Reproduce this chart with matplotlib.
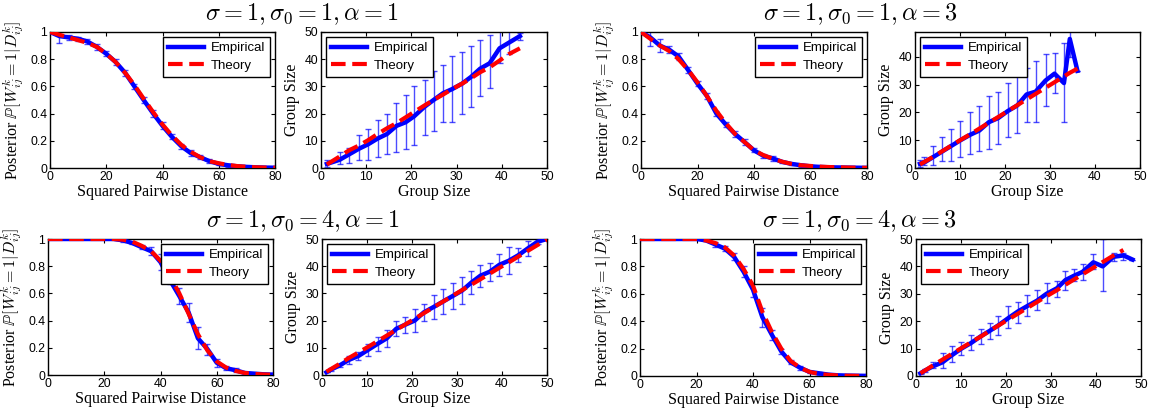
import numpy as np
import matplotlib
matplotlib.use("Agg")
import matplotlib.pyplot as plt
from matplotlib.ticker import FuncFormatter

plt.rcParams['mathtext.fontset'] = 'cm'
plt.rcParams['font.family'] = ['Liberation Sans', 'DejaVu Sans']

# ---- posterior panels: x grid (squared pairwise distance)
post_x = [0.0, 3.3, 6.7, 10.0, 13.3, 16.7, 20.0, 23.3, 26.7, 30.0, 33.3, 36.7, 40.0,
          43.3, 46.7, 50.0, 53.3, 56.7, 60.0, 63.3, 66.7, 70.0, 73.3, 76.7, 80.0]

# sigma0=1, alpha=1
post_11_emp = [1.00, 0.97, 0.96, 0.95, 0.93, 0.89, 0.84, 0.78, 0.70, 0.60, 0.50, 0.40, 0.31,
               0.23, 0.16, 0.11, 0.08, 0.05, 0.03, 0.02, 0.012, 0.008, 0.005, 0.003, 0.002]
post_11_err = [0.0, 0.05, 0.02, 0.015, 0.015, 0.02, 0.02, 0.02, 0.02, 0.02, 0.025, 0.025, 0.025,
               0.02, 0.02, 0.02, 0.015, 0.015, 0.01, 0.01, 0.01, 0.008, 0.005, 0.005, 0.0]
post_11_th = [1.00, 0.98, 0.96, 0.94, 0.92, 0.89, 0.84, 0.78, 0.70, 0.61, 0.51, 0.41, 0.32,
              0.24, 0.17, 0.12, 0.08, 0.05, 0.035, 0.022, 0.014, 0.009, 0.005, 0.003, 0.002]

# sigma0=1, alpha=3
post_13_emp = [1.00, 0.96, 0.90, 0.87, 0.82, 0.72, 0.62, 0.53, 0.40, 0.32, 0.25, 0.19, 0.13,
               0.09, 0.07, 0.045, 0.03, 0.02, 0.012, 0.008, 0.005, 0.004, 0.003, 0.002, 0.001]
post_13_err = [0.0, 0.065, 0.05, 0.025, 0.025, 0.02, 0.02, 0.02, 0.02, 0.02, 0.02, 0.02, 0.015,
               0.015, 0.015, 0.01, 0.01, 0.01, 0.008, 0.008, 0.005, 0.005, 0.004, 0.003, 0.0]
post_13_th = [1.00, 0.95, 0.90, 0.86, 0.80, 0.72, 0.63, 0.53, 0.42, 0.33, 0.25, 0.19, 0.13,
              0.095, 0.068, 0.046, 0.03, 0.02, 0.015, 0.01, 0.007, 0.005, 0.003, 0.002, 0.001]

# sigma0=4, alpha=1
post_41_emp = [1.00, 1.00, 1.00, 1.00, 1.00, 1.00, 1.00, 1.00, 0.99, 0.97, 0.94, 0.91, 0.83,
               0.70, 0.58, 0.46, 0.27, 0.19, 0.09, 0.05, 0.035, 0.015, 0.01, 0.005, 0.003]
post_41_err = [0.0, 0.0, 0.0, 0.0, 0.0, 0.0, 0.0, 0.0, 0.01, 0.01, 0.015, 0.03, 0.06,
               0.03, 0.06, 0.07, 0.08, 0.04, 0.03, 0.015, 0.015, 0.008, 0.005, 0.003, 0.0]
post_41_th = [1.00, 1.00, 1.00, 1.00, 1.00, 1.00, 1.00, 1.00, 0.995, 0.98, 0.95, 0.91, 0.84,
              0.73, 0.60, 0.45, 0.30, 0.18, 0.10, 0.055, 0.03, 0.015, 0.008, 0.004, 0.002]

# sigma0=4, alpha=3
post_43_emp = [1.00, 1.00, 1.00, 1.00, 1.00, 1.00, 1.00, 0.99, 0.96, 0.93, 0.87, 0.76, 0.63,
               0.43, 0.30, 0.18, 0.10, 0.06, 0.03, 0.02, 0.01, 0.005, 0.003, 0.002, 0.001]
post_43_err = [0.0, 0.0, 0.0, 0.0, 0.0, 0.0, 0.0, 0.005, 0.02, 0.02, 0.025, 0.04, 0.05,
               0.07, 0.035, 0.02, 0.015, 0.015, 0.01, 0.01, 0.005, 0.003, 0.002, 0.0, 0.0]
post_43_th = [1.00, 1.00, 1.00, 1.00, 1.00, 1.00, 1.00, 0.99, 0.97, 0.94, 0.88, 0.78, 0.66,
              0.47, 0.32, 0.20, 0.11, 0.06, 0.03, 0.015, 0.008, 0.004, 0.002, 0.001, 0.0]

# ---- group size panels
# sigma0=1, alpha=1
gs_11_x = [1.3, 4.1, 6.2, 8.3, 10.4, 12.5, 14.6, 16.7, 18.7, 20.6, 22.9, 24.9, 27.0, 29.0,
           31.2, 33.2, 35.2, 37.3, 39.5, 41.5, 44.0]
gs_11_emp = [1.5, 3.0, 5.0, 7.0, 8.7, 10.8, 12.5, 15.5, 16.8, 19.0, 22.5, 25.0, 27.5, 29.0,
             31.0, 33.5, 36.5, 38.5, 44.0, 46.0, 48.5]
gs_11_lo = [0.5, 1.5, 2.0, 3.0, 3.0, 4.0, 5.0, 6.0, 7.0, 8.5, 12.0, 13.5, 17.0, 17.0,
            20.0, 22.5, 26.5, 29.5, 38.5, 42.0, 47.0]
gs_11_hi = [3.0, 6.0, 7.5, 12.0, 14.5, 17.5, 20.0, 24.0, 27.0, 30.0, 32.5, 35.5, 38.0, 41.0,
            42.5, 45.0, 47.0, 49.0, 52.0, 52.0, 49.5]
gs_11_th = [1.3, 4.2, 6.5, 8.2, 10.2, 12.5, 14.6, 16.5, 18.6, 20.6, 23.0, 25.0, 27.0, 29.0,
            31.0, 33.0, 35.2, 37.0, 39.5, 41.8, 44.0]

# sigma0=1, alpha=3
gs_13_x = [1.1, 2.1, 4.1, 6.1, 8.1, 10.1, 12.3, 14.3, 16.4, 18.5, 20.6, 22.7, 24.8, 26.8,
           29.0, 31.0, 33.1, 34.4, 36.1]
gs_13_emp = [1.5, 2.0, 4.0, 6.0, 8.0, 10.0, 12.0, 13.5, 16.5, 18.0, 20.5, 22.5, 26.5, 27.5,
             31.5, 34.0, 30.6, 46.5, 35.0]
gs_13_lo = [0.5, 1.0, 1.0, 2.5, 2.5, 4.0, 5.0, 6.0, 7.0, 8.5, 11.0, 12.5, 16.5, 16.5,
            22.5, 27.0, 16.5, 40.0, 35.0]
gs_13_hi = [3.0, 4.0, 8.0, 11.0, 14.0, 17.0, 20.0, 22.5, 26.0, 27.5, 30.5, 33.0, 36.0, 38.5,
            41.0, 41.5, 45.0, 52.0, 35.0]
gs_13_th = [1.3, 2.2, 4.1, 6.1, 8.1, 10.1, 12.2, 14.2, 16.3, 18.4, 20.5, 22.6, 24.7, 26.7,
            28.9, 30.9, 33.0, 34.3, 35.8]

# sigma0=4, alpha=1
gs_41_x = [1.0, 2.0, 3.9, 5.9, 8.1, 10.2, 12.4, 14.4, 16.5, 18.5, 20.6, 22.6, 24.8, 26.9,
           29.0, 31.1, 33.2, 35.2, 37.3, 39.4, 41.5, 43.6, 45.7, 47.9, 50.0]
gs_41_emp = [1.0, 2.0, 3.5, 5.5, 7.0, 9.2, 11.5, 13.5, 17.0, 18.5, 20.0, 23.0, 25.0, 27.0,
             29.0, 31.0, 34.0, 36.5, 38.0, 40.5, 42.0, 44.0, 46.5, 49.0, 50.0]
gs_41_err = [0.0, 0.4, 0.6, 1.6, 1.5, 2.3, 2.5, 3.2, 2.8, 3.0, 4.3, 3.0, 4.3, 4.6,
             4.8, 5.0, 4.1, 4.1, 3.3, 4.0, 4.9, 2.6, 2.8, 1.0, 0.0]
gs_41_th = [1.2, 2.2, 4.1, 6.2, 8.3, 10.3, 12.5, 14.5, 16.6, 18.6, 20.7, 22.7, 24.9, 27.0,
            29.1, 31.2, 33.2, 35.2, 37.3, 39.4, 41.4, 43.5, 45.6, 47.8, 49.8]

# sigma0=4, alpha=3
gs_43_x = [1.0, 2.0, 3.7, 5.9, 7.9, 10.1, 12.2, 14.4, 16.4, 18.3, 20.4, 22.6, 24.7, 26.9,
           29.0, 31.3, 33.2, 35.0, 37.0, 39.4, 41.5, 43.9, 46.1, 48.1]
gs_43_emp = [1.0, 2.0, 3.5, 5.0, 7.5, 10.0, 12.0, 14.5, 16.5, 18.5, 21.0, 23.5, 25.5, 27.5,
             30.0, 32.0, 35.0, 36.5, 38.0, 41.5, 40.0, 43.5, 44.0, 42.5]
gs_43_lo = [0.8, 1.5, 3.0, 3.0, 5.0, 7.5, 9.5, 11.5, 13.5, 15.0, 17.5, 19.5, 22.0, 24.0,
            26.5, 29.0, 31.5, 34.5, 35.0, 39.0, 31.0, 42.0, 42.5, 42.5]
gs_43_hi = [1.2, 2.5, 5.0, 8.5, 10.8, 12.5, 15.0, 17.3, 19.5, 22.0, 25.5, 27.0, 29.5, 31.5,
            34.0, 34.5, 38.5, 39.0, 41.0, 44.5, 50.0, 45.0, 45.0, 42.5]
gs_43_th = [1.0, 2.0, 3.8, 6.0, 8.0, 10.2, 12.3, 14.4, 16.5, 18.4, 20.5, 22.7, 24.8, 27.0,
            29.1, 31.3, 33.3, 35.1, 37.1, 39.5, 41.6, 44.0, 46.0, np.nan]

titles = [r"$\sigma = 1, \sigma_0 = 1, \alpha = 1$",
          r"$\sigma = 1, \sigma_0 = 1, \alpha = 3$",
          r"$\sigma = 1, \sigma_0 = 4, \alpha = 1$",
          r"$\sigma = 1, \sigma_0 = 4, \alpha = 3$"]

W, H = 1156, 412
fig = plt.figure(figsize=(W / 100, H / 100), dpi=100)

SERIF = ['Liberation Serif', 'DejaVu Serif']
BLUE = '#0000ff'
RED = '#ff0000'


def px_axes(l, t, r, b):
    return fig.add_axes([l / W, 1 - b / H, (r - l) / W, (b - t) / H])


def style(ax):
    ax.tick_params(direction='in', top=True, right=True, length=3, labelsize=8.8, pad=2)
    for s in ax.spines.values():
        s.set_linewidth(1.0)
    ax.xaxis.set_major_formatter(FuncFormatter(lambda v, p: '%g' % v))
    ax.yaxis.set_major_formatter(FuncFormatter(lambda v, p: '%g' % v))


def draw_lines(ax, x, emp, yerr, th, loc):
    ax.errorbar(x, emp, yerr=yerr, fmt='none', ecolor=BLUE, elinewidth=1.0,
                capsize=2.2, capthick=1.0, alpha=0.7, zorder=2)
    ax.plot(x, emp, color=BLUE, lw=3.2, label='Empirical', zorder=3)
    ax.plot(x, th, color=RED, lw=3.0, ls='--', dashes=(3.5, 1.6), label='Theory', zorder=4)
    leg = ax.legend(loc=loc, fontsize=9.5, fancybox=False, framealpha=1, edgecolor='black',
                    handlelength=2.7, borderpad=0.42, labelspacing=0.4, borderaxespad=0.35,
                    handletextpad=0.5)
    leg.get_frame().set_linewidth(1.0)


def posterior_panel(rect, emp, err, th):
    ax = px_axes(*rect)
    draw_lines(ax, post_x, emp, err, th, 'upper right')
    ax.set_xlim(0, 80)
    ax.set_ylim(0, 1)
    ax.set_xticks([0, 20, 40, 60, 80])
    ax.set_yticks([0, 0.2, 0.4, 0.6, 0.8, 1])
    style(ax)
    ax.set_xlabel('Squared Pairwise Distance', family=SERIF, fontsize=11.5, labelpad=1)
    ax.set_ylabel(r'Posterior $\mathbb{P}[W_{ij}^k = 1|D_{ij}^k]$', family=SERIF,
                  fontsize=11.5, labelpad=3)
    return ax


def group_panel(rect, x, emp, lo, hi, th, ytop=50):
    ax = px_axes(*rect)
    emp_a = np.array(emp)
    yerr = [emp_a - np.array(lo), np.array(hi) - emp_a]
    draw_lines(ax, x, emp, yerr, th, 'upper left')
    ax.set_xlim(0, 50)
    ax.set_ylim(0, ytop)
    ax.set_xticks([0, 10, 20, 30, 40, 50])
    ax.set_yticks([t for t in [0, 10, 20, 30, 40, 50] if t <= ytop])
    style(ax)
    ax.set_xlabel('Group Size', family=SERIF, fontsize=11.5, labelpad=1)
    ax.set_ylabel('Group Size', family=SERIF, fontsize=11.5, labelpad=3)
    return ax


# top row
posterior_panel((50, 32, 275, 168), post_11_emp, post_11_err, post_11_th)
group_panel((321, 32, 547, 168), gs_11_x, gs_11_emp, gs_11_lo, gs_11_hi, gs_11_th)
posterior_panel((641, 32, 867, 168), post_13_emp, post_13_err, post_13_th)
group_panel((915, 32, 1140, 168), gs_13_x, gs_13_emp, gs_13_lo, gs_13_hi, gs_13_th, ytop=49)

# bottom row
posterior_panel((48, 239, 273, 375), post_41_emp, post_41_err, post_41_th)
g41 = np.array(gs_41_emp)
g41e = np.array(gs_41_err)
group_panel((322, 239, 547, 375), gs_41_x, gs_41_emp, g41 - g41e, g41 + g41e, gs_41_th)
posterior_panel((640, 239, 866, 376), post_43_emp, post_43_err, post_43_th)
group_panel((916, 239, 1141, 376), gs_43_x, gs_43_emp, gs_43_lo, gs_43_hi, gs_43_th)

# pair titles
for (cx, cy), t in zip([(302, 14), (861, 14), (303, 221), (860, 221)], titles):
    fig.text(cx / W, 1 - cy / H, t, ha='center', va='center', fontsize=17.5)

fig.savefig('out.png', dpi=100)
